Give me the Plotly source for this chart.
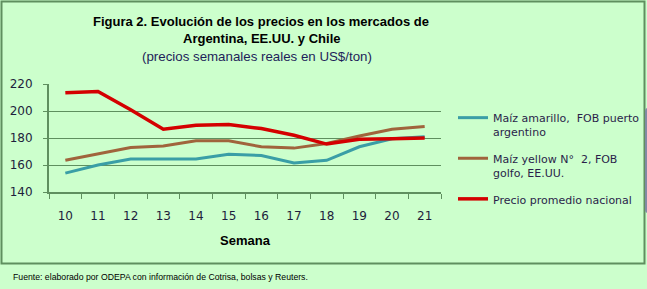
import plotly.graph_objects as go

semanas = ["10", "11", "12", "13", "14", "15", "16", "17", "18", "19", "20", "21"]
maiz_argentina = [154, 160, 164.5, 164.5, 164.5, 168, 167, 161.5, 163.5, 173.5, 179.5, 181]
maiz_eeuu = [163.5, 168, 173, 174, 178, 178, 173.5, 172.5, 176, 181.5, 186.5, 188.5]
precio_nacional = [213.5, 214.5, 201, 186.5, 189.5, 190, 187, 182, 175.5, 179, 179.5, 180]
y_ticks = [140, 160, 180, 200, 220]

bg = "#CCFFCC"
grid = "#5F8F5F"
txt = "#1E1E3C"

W, H = 647, 289
L, R, T, B = 49, 206, 84, 97
pw, ph = W - L - R, H - T - B


def px(x):
    return (x - L) / pw


def py(y):
    return (H - B - y) / ph


fig = go.Figure()
fig.add_trace(go.Scatter(x=semanas, y=maiz_argentina, mode="lines",
                         name="Maíz amarillo,  FOB puerto<br>argentino", legendgroup="a",
                         line=dict(color="#3A9EA6", width=3)))
fig.add_trace(go.Scatter(x=semanas, y=maiz_eeuu, mode="lines",
                         name="Maíz yellow N°  2, FOB<br>golfo, EE.UU.", legendgroup="b",
                         line=dict(color="#A0643C", width=3)))
fig.add_trace(go.Scatter(x=semanas, y=precio_nacional, mode="lines",
                         name="Precio promedio nacional", legendgroup="c",
                         line=dict(color="#D40000", width=3.5)))

fig.update_layout(
    width=W, height=H,
    margin=dict(l=L, r=R, t=T, b=B, pad=0, autoexpand=False),
    paper_bgcolor=bg, plot_bgcolor=bg,
    font=dict(family="DejaVu Sans", size=11, color=txt),
    showlegend=True,
    legend=dict(x=px(453), y=py(104), xanchor="left", yanchor="top",
                bgcolor="rgba(0,0,0,0)", tracegroupgap=9, valign="top",
                font=dict(family="DejaVu Sans", size=11, color="#2A1E4A")),
    xaxis=dict(type="category", showgrid=False, showline=True, linecolor=grid,
               linewidth=2, ticks="outside", tickson="boundaries", ticklen=5,
               tickcolor=grid, tickwidth=1, ticklabelstandoff=12,
               tickfont=dict(size=12), range=[-0.5, 11.5],
               title=dict(text="<b>Semana</b>", standoff=13,
                          font=dict(family="Liberation Sans", size=13, color="#000"))),
    yaxis=dict(range=[140, 220], tickvals=y_ticks, showgrid=True, gridcolor=grid,
               gridwidth=1, showline=True, linecolor=grid, linewidth=2,
               ticks="outside", ticklen=4, tickcolor=grid, zeroline=False,
               tickfont=dict(size=12), ticklabelstandoff=8),
    shapes=[dict(type="rect", xref="paper", yref="paper",
                 x0=px(1.5), x1=px(644.5), y0=py(263.5), y1=py(1.5),
                 line=dict(color=grid, width=2), layer="below")],
    annotations=[
        dict(text="<b>Figura 2. Evolución de los precios en los mercados de</b>",
             xref="paper", yref="paper", x=px(261), y=py(21), showarrow=False,
             xanchor="center", yanchor="middle",
             font=dict(family="Liberation Sans", size=13, color="#000")),
        dict(text="<b>Argentina, EE.UU. y Chile</b>",
             xref="paper", yref="paper", x=px(261), y=py(38), showarrow=False,
             xanchor="center", yanchor="middle",
             font=dict(family="Liberation Sans", size=13, color="#000")),
        dict(text="(precios semanales reales en US$/ton)",
             xref="paper", yref="paper", x=px(257), y=py(56), showarrow=False,
             xanchor="center", yanchor="middle",
             font=dict(family="Liberation Sans", size=13.3, color="#1E1E5A")),
        dict(text="Fuente: elaborado por ODEPA con información de Cotrisa, bolsas y Reuters.",
             xref="paper", yref="paper", x=px(11), y=py(277), showarrow=False,
             xanchor="left", yanchor="middle",
             font=dict(family="Liberation Sans", size=8.7, color="#000")),
    ],
)

fig.write_html("out.html", config={"displayModeBar": False},
               post_script="document.body.style.margin='0';")
